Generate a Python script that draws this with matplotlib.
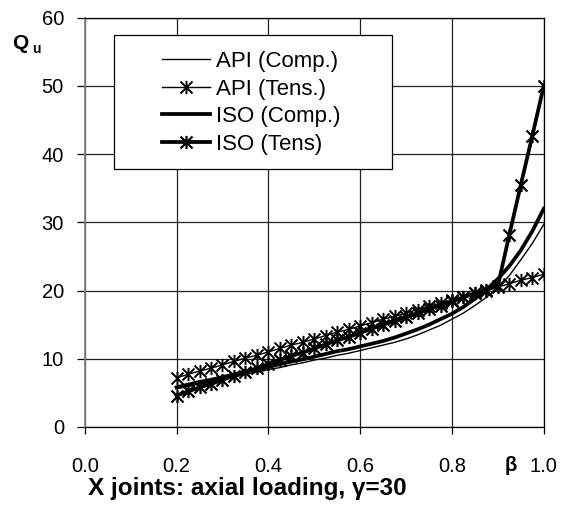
import numpy as np
import matplotlib.pyplot as plt
from matplotlib.path import Path
from matplotlib.patches import Rectangle

plt.rcParams['font.family'] = ['Liberation Sans', 'DejaVu Sans']

# beta values (step 0.025)
beta = [0.2, 0.225, 0.25, 0.275, 0.3, 0.325, 0.35, 0.375, 0.4, 0.425, 0.45,
        0.475, 0.5, 0.525, 0.55, 0.575, 0.6, 0.625, 0.65, 0.675, 0.7, 0.725,
        0.75, 0.775, 0.8, 0.825, 0.85, 0.875, 0.9, 0.925, 0.95, 0.975, 1.0]

api_comp = [5.6, 5.9, 6.3, 6.6, 7.0, 7.3, 7.7, 8.0, 8.4, 8.7, 9.1, 9.4, 9.8,
            10.1, 10.5, 10.8, 11.2, 11.6, 12.0, 12.4, 12.9, 13.5, 14.2, 14.9,
            15.8, 16.7, 17.8, 19.0, 20.4, 22.2, 24.5, 26.9, 29.7]

api_tens = [7.2, 7.7, 8.2, 8.6, 9.1, 9.6, 10.1, 10.5, 11.0, 11.5, 12.0, 12.4,
            12.9, 13.4, 13.9, 14.3, 14.8, 15.3, 15.8, 16.2, 16.7, 17.2, 17.7,
            18.1, 18.6, 19.1, 19.6, 20.0, 20.5, 21.0, 21.5, 21.9, 22.4]

iso_comp = [5.8, 6.2, 6.6, 6.9, 7.3, 7.7, 8.1, 8.4, 8.8, 9.2, 9.6, 9.9, 10.3,
            10.7, 11.1, 11.4, 11.8, 12.2, 12.6, 13.1, 13.7, 14.3, 15.0, 15.8,
            16.6, 17.6, 18.8, 20.1, 21.7, 23.6, 25.9, 28.7, 32.0]

iso_tens = [4.6, 5.2, 5.8, 6.3, 6.9, 7.5, 8.1, 8.6, 9.2, 9.8, 10.4, 10.9,
            11.5, 12.1, 12.7, 13.2, 13.8, 14.4, 15.0, 15.5, 16.1, 16.7, 17.3,
            17.8, 18.4, 19.0, 19.6, 20.1, 20.7, 28.2, 35.5, 42.7, 50.0]

# Excel-like asterisk: X with a vertical bar
star = Path([(-1, -1), (1, 1), (-1, 1), (1, -1), (0, -1.1), (0, 1.1)],
            [Path.MOVETO, Path.LINETO, Path.MOVETO, Path.LINETO,
             Path.MOVETO, Path.LINETO])

fig = plt.figure(figsize=(5.73, 5.07), dpi=100)
ax = fig.add_axes([0.148, 0.158, 0.801, 0.807])

ax.plot(beta, api_comp, color='black', lw=1.0, label='API (Comp.)', zorder=3)
ax.plot(beta, api_tens, color='black', lw=1.0, marker=star, ms=9.5, mew=1.4,
        mfc='none', label='API (Tens.)', zorder=3)
ax.plot(beta, iso_comp, color='black', lw=2.7, label='ISO (Comp.)', zorder=3)
ax.plot(beta, iso_tens, color='black', lw=2.7, marker=star, ms=9.5, mew=1.6,
        mfc='none', label='ISO (Tens)', zorder=3)

ax.set_xlim(0, 1.0)
ax.set_ylim(0, 60)
ax.set_xticks(np.arange(0, 1.01, 0.2))
ax.set_yticks(np.arange(0, 61, 10))
ax.set_xticklabels(['0.0', '0.2', '0.4', '0.6', '0.8', '1.0'])
ax.grid(True, color='#222222', lw=0.9)
ax.set_axisbelow(True)
ax.tick_params(axis='x', direction='out', length=5, width=0.9, pad=17,
               labelsize=14.5)
ax.tick_params(axis='y', direction='out', length=6, width=0.9, pad=9,
               labelsize=14.5)
for s in ['top', 'right', 'bottom']:
    ax.spines[s].set_color('black')
    ax.spines[s].set_linewidth(0.9)
ax.spines['left'].set_color('#808080')
ax.spines['left'].set_linewidth(1.3)

# legend box
ax.add_patch(Rectangle((0.063, 0.631), 0.607, 0.327, transform=ax.transAxes,
                       facecolor='white', edgecolor='black', lw=0.9,
                       zorder=5))
leg = ax.legend(loc='center left', bbox_to_anchor=(0.168, 0.792),
                frameon=False, fontsize=16, handlelength=2.16,
                handletextpad=0.27, labelspacing=0.3, borderpad=0,
                borderaxespad=0)
leg.set_zorder(6)

fig.text(0.022, 1 - 49 / 507, 'Q', fontsize=15, fontweight='bold',
         va='baseline')
fig.text(0.056, 1 - 53 / 507, 'u', fontsize=10, fontweight='bold',
         va='baseline')
fig.text(511 / 573, 1 - 471 / 507, 'β', fontsize=14.5, fontweight='bold',
         ha='center', va='baseline')
fig.text(88 / 573, 1 - 495 / 507, 'X joints: axial loading, γ=30',
         fontsize=17.5, fontweight='bold', ha='left', va='baseline')

fig.savefig('out.png', dpi=100)
